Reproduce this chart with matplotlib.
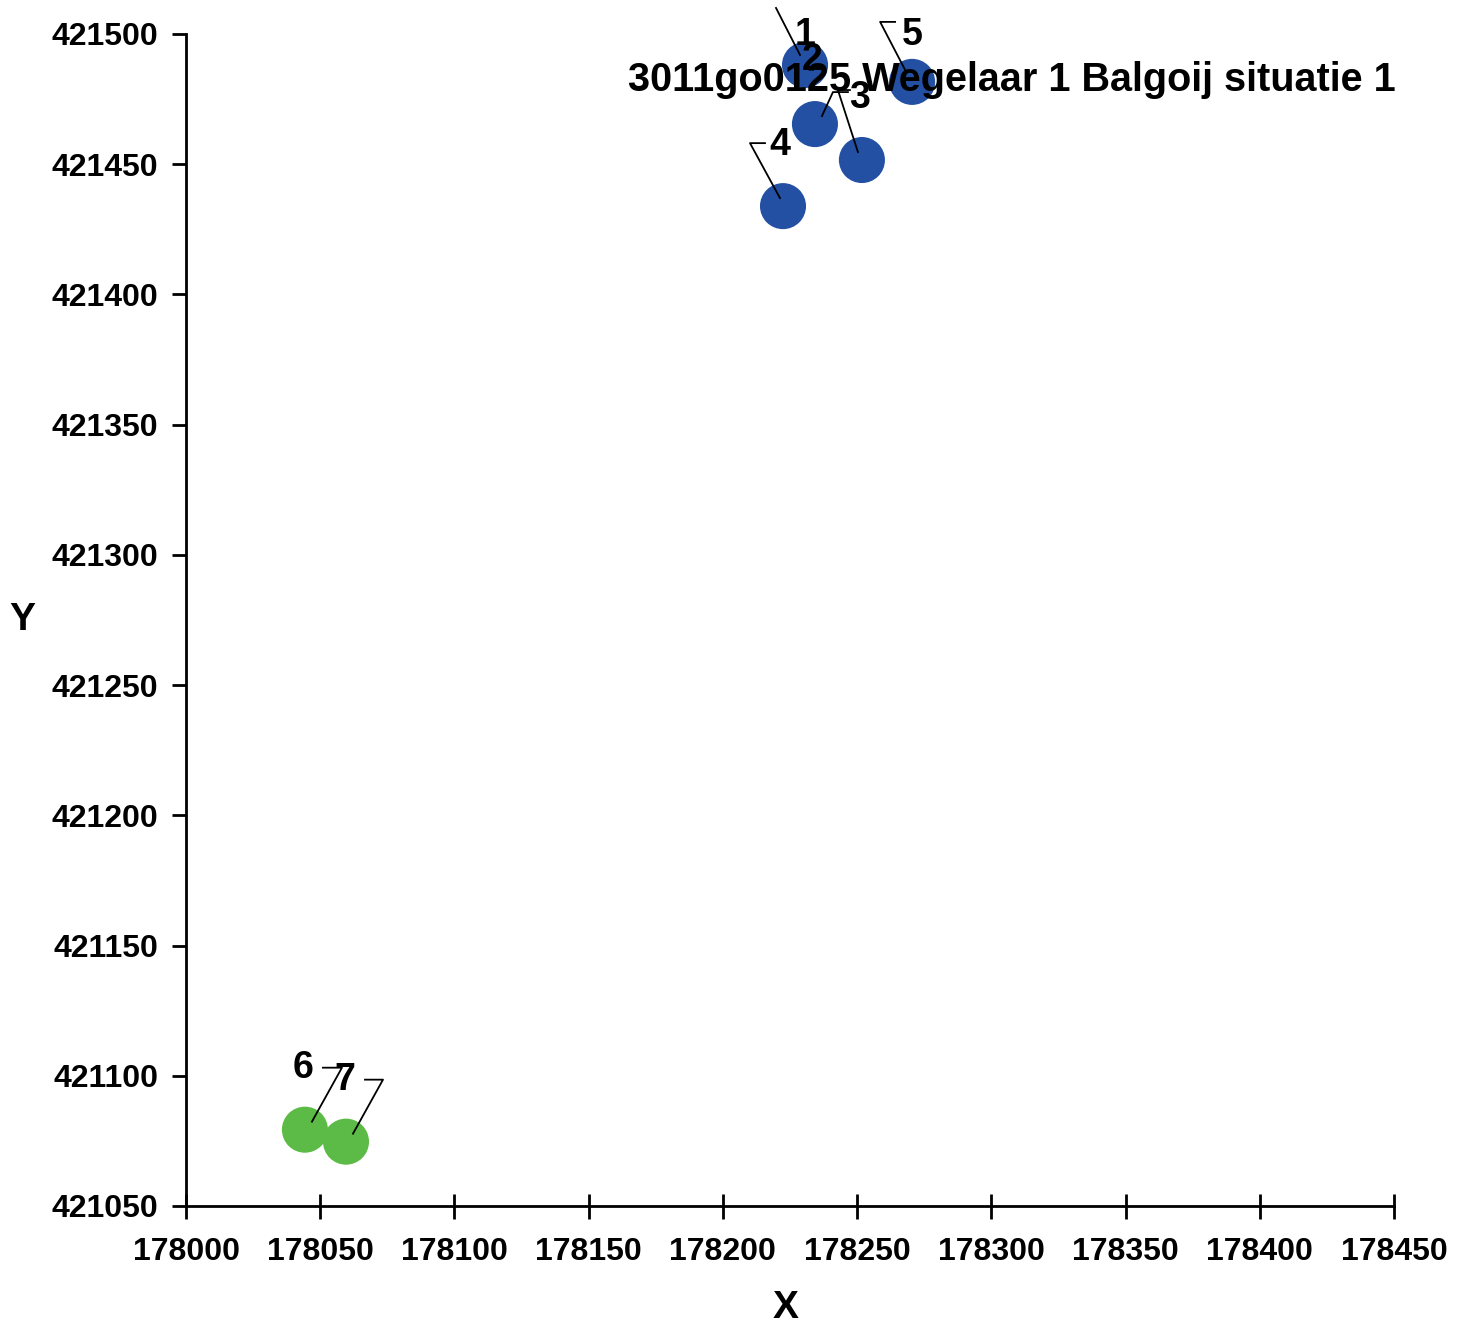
import matplotlib
matplotlib.use("Agg")
import matplotlib.pyplot as plt

# point data (blue = situation points, green = second group)
labels = ['1', '2', '3', '4', '5', '6', '7']
xs = [178230.6, 178234.3, 178251.8, 178222.4, 178270.5, 178044.3, 178059.6]
ys = [421488.1, 421465.4, 421451.6, 421433.9, 421481.6, 421079.3, 421074.7]
groups = ['b', 'b', 'b', 'b', 'b', 'g', 'g']
title_text = "3011go0125 Wegelaar 1 Balgoij situatie 1"
xticks = [178000, 178050, 178100, 178150, 178200, 178250, 178300, 178350, 178400, 178450]
yticks = [421050, 421100, 421150, 421200, 421250, 421300, 421350, 421400, 421450, 421500]

COLORS = {'b': '#2350a3', 'g': '#5cbb46'}
# label offset (pixels, up positive) and leader line points relative to marker
LABEL_OFF = {
    '1': (0, 30), '2': (-3, 64), '3': (-2, 62), '4': (-3, 61),
    '5': (0, 47), '6': (-2, 62), '7': (-1, 62),
}
LEADERS = {
    '1': [(-29, 57), (-5, 10)],
    '2': [(33, 32), (18, 32), (7, 8)],
    '3': [(-12, 70), (-24, 70), (-4, 8)],
    '4': [(-18, 63), (-33, 63), (-3, 8)],
    '5': [(-17, 60), (-32, 60), (-7, 12)],
    '6': [(18, 62), (37, 62), (7, 8)],
    '7': [(19, 62), (37, 62), (7, 8)],
}

plt.rcParams['font.family'] = ['Liberation Sans', 'DejaVu Sans']
plt.rcParams['font.weight'] = 'bold'

fig = plt.figure(figsize=(14.67, 13.32), dpi=100)
ax = fig.add_axes([0.1268, 0.0946, 0.8234, 0.8799])
ax.set_xlim(178000, 178450)
ax.set_ylim(421050, 421500)

for g in ['b', 'g']:
    px = [x for x, gg in zip(xs, groups) if gg == g]
    py = [y for y, gg in zip(ys, groups) if gg == g]
    ax.scatter(px, py, s=1100, color=COLORS[g], edgecolors='none', zorder=3, clip_on=False)

to_fig = fig.transFigure.inverted()
for lab, x, y in zip(labels, xs, ys):
    dx, dy = LABEL_OFF[lab]
    ax.annotate(lab, (x, y), xytext=(dx, dy), textcoords='offset pixels',
                ha='center', va='center', fontsize=27, fontweight='bold', zorder=5)
    cx, cy = ax.transData.transform((x, y))
    pts = [to_fig.transform((cx + ox, cy + oy)) for ox, oy in LEADERS[lab]]
    fig.add_artist(plt.Line2D([p[0] for p in pts], [p[1] for p in pts],
                              transform=fig.transFigure, color='black', lw=1.3, zorder=6))

fig.text(1012 / 1467, 1 - 80 / 1332, title_text, ha='center', va='center',
         fontsize=28.5, fontweight='bold', zorder=10)

ax.set_xticks(xticks)
ax.set_yticks(yticks)
ax.set_xticklabels([str(v) for v in xticks], fontsize=23, fontweight='bold')
ax.set_yticklabels([str(v) for v in yticks], fontsize=23, fontweight='bold')
ax.tick_params(axis='x', direction='inout', length=18, width=2, pad=13)
ax.tick_params(axis='y', direction='out', length=10, width=2, pad=10)
ax.spines['top'].set_visible(False)
ax.spines['right'].set_visible(False)
ax.spines['left'].set_linewidth(2)
ax.spines['bottom'].set_linewidth(2)

fig.text(786 / 1467, 1 - 1308 / 1332, 'X', ha='center', va='center', fontsize=28, fontweight='bold')
fig.text(22 / 1467, 1 - 620 / 1332, 'Y', ha='center', va='center', fontsize=28, fontweight='bold')

fig.savefig('out.png', dpi=100)
